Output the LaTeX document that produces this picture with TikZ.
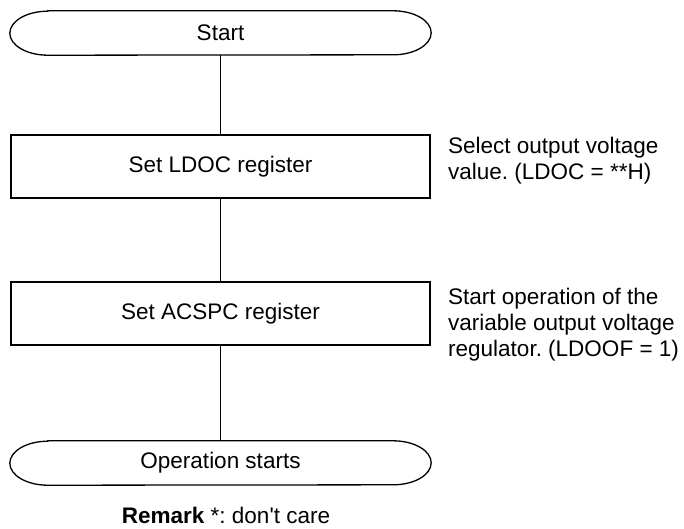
\documentclass[tikz,border=0pt]{standalone}
\usepackage{fontspec}
\setmainfont{Liberation Sans}
\begin{document}
\frenchspacing
\begin{tikzpicture}[x=1pt,y=-1pt,
  every node/.style={font=\fontsize{22.5}{26}\selectfont, inner sep=0pt},
  stepbox/.style={draw, line width=1.3pt, minimum width=419pt, minimum height=63pt},
  termbox/.style={minimum width=421pt, minimum height=44pt},
  conn/.style={line width=1.3pt},
  note/.style={anchor=base west, align=left}]
\useasboundingbox (0,0) rectangle (684,528);
\node[termbox] (start) at (220.5,33) {Start};
\node[stepbox] (ldoc) at (220.5,166.5) {Set LDOC register};
\node[stepbox] (acspc) at (220.5,313.5) {Set ACSPC register};
\node[termbox] (end) at (220.5,463) {Operation starts};
\foreach \n in {start,end}{
  \draw[line width=1.3pt] ([xshift=38pt]\n.north west) -- ([xshift=-38pt]\n.north east)
    arc[start angle=90, end angle=-90, x radius=38pt, y radius=22pt]
    -- ([xshift=38pt]\n.south west)
    arc[start angle=270, end angle=90, x radius=38pt, y radius=22pt] -- cycle;
}
\draw[conn] (start.south) -- (ldoc.north);
\draw[conn] (ldoc.south) -- (acspc.north);
\draw[conn] (acspc.south) -- (end.north);
\node[note] (n1a) at (448,153) {Select output voltage};
\node[note] (n1b) at (448,179) {value. (LDOC = **H)};
\node[note] (n2a) at (448,304) {Start operation of the};
\node[note] (n2b) at (448,330) {variable output voltage};
\node[note] (n2c) at (448,356) {regulator. (LDOOF = 1)};
\node[anchor=base] (remark) at (226,523) {\textbf{Remark} *: don\textquotesingle t care};
\end{tikzpicture}
\end{document}
